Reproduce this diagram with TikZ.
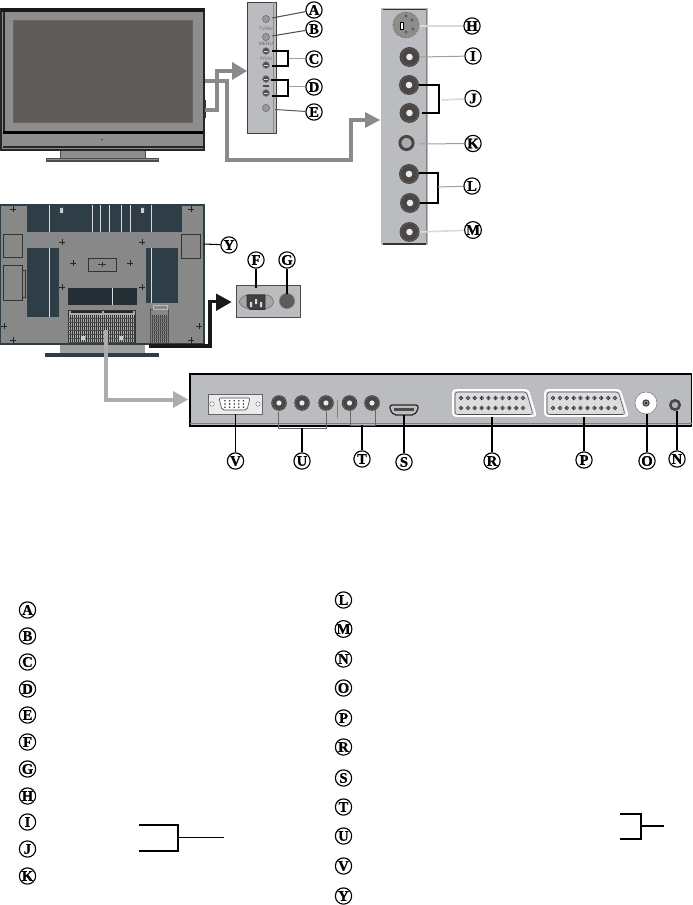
\documentclass[tikz,border=0pt]{standalone}
\usepackage{fontspec}
\setmainfont[BoldFeatures={FakeBold=0.9}]{Liberation Serif}
\newfontfamily\tinysans{Liberation Sans}
\definecolor{frameg}{HTML}{8F8D8C}
\definecolor{screeng}{HTML}{5F5B59}
\definecolor{panelg}{HTML}{BABCBF}
\definecolor{backg}{HTML}{888888}
\definecolor{darkblue}{HTML}{2F3D47}
\definecolor{jackd}{HTML}{4A4646}
\definecolor{arrowg}{HTML}{8A8A8A}
\definecolor{arrowl}{HTML}{ADADAD}
\definecolor{leadg}{HTML}{A0A0A0}
\definecolor{leadl}{HTML}{DADADA}
\newcommand{\rcajack}[3]{%
  \fill[jackd] (#1,#2) circle (#3);
  \draw[gray!70,line width=.3pt,densely dotted] (#1,#2) circle (#3*0.86);
  \fill[white!92!black] (#1,#2) circle (#3*0.33);}
\newcommand{\scartconn}[2]{%
  \begin{scope}[shift={(#1,#2)}]
    \draw[white,line width=1.2pt,fill=panelg!50!white,rounded corners=2pt] (0,0) -- (75,0) -- (83,26) -- (0,26) -- cycle;
    \draw[black!70,line width=.4pt,rounded corners=2pt] (2,2) -- (73.5,2) -- (80,24.5) -- (2,24.5) -- cycle;
    \foreach \i in {0,...,9} {
      \draw[black!75,line width=.5pt,fill=white] (8+6.9*\i,8) circle (1.9);
      \draw[black!75,line width=.5pt,fill=white] (8+6.9*\i,18) circle (1.9);
      \fill[black!85] (8+6.9*\i,8) circle (1);
      \fill[black!85] (8+6.9*\i,18) circle (1);
    }
  \end{scope}}
\tikzset{
  x=0.75pt,y=-0.75pt,
  lbl/.style={circle,draw=black,line width=.85pt,fill=white,minimum size=12.2pt,inner sep=0pt,font=\fontsize{11}{11}\selectfont\bfseries},
  lead/.style={black,line width=.8pt},
  leadgrey/.style={leadg,line width=.75pt},
  leadpale/.style={leadl,line width=1.2pt},
  brk/.style={black,line width=.85pt},
  shaftd/.style={arrowg,line width=2.4pt,line join=miter},
  shaftl/.style={arrowl,line width=2.8pt,line join=miter},
  shaftk/.style={black!90,line width=2.6pt,line join=miter},
  tiny lab/.style={inner sep=0pt,text=black!60,font=\tinysans\fontsize{3.6}{4}\selectfont},
}
\begin{document}
\begin{tikzpicture}
\useasboundingbox (0,0) rectangle (692,905);
\fill[white] (0,0) rectangle (692,905);

% ---------- front TV
\fill[frameg] (60,150) rectangle (145,158);
\draw[black!70,line width=.5pt] (60,150) -- (60,158) (145,150) -- (145,158);
\fill[black!70] (46,158) rectangle (159,162);
\fill[frameg] (47,159) rectangle (158,160.5);
\filldraw[fill=frameg,draw=black!85,line width=.9pt] (1,9) rectangle (204,150);
\fill[black!90] (1,8) rectangle (204,12);
\fill[black!85] (3,12) rectangle (5,132);
\filldraw[fill=screeng,draw=black!60,line width=.5pt] (13,20) rectangle (192,122);
\fill[black] (3,131) rectangle (203,134);
\draw[black!85,line width=.8pt] (3,147) -- (203,147);
\fill[black!70] (102,139.5) circle (.8);
\fill[black!80] (204,100) rectangle (206,118);

% ---------- side panel
\filldraw[fill=panelg,draw=black!75,line width=.6pt] (247,2) rectangle (276,133);
\draw[frameg,line width=.6pt] (273,2) -- (273,133);
\foreach \yy in {19,37,108} \filldraw[fill=gray!80,draw=black!55,line width=.5pt] (266,\yy) circle (3.6);
\foreach \yy in {51,65,79,93} {
  \filldraw[fill=black!70,draw=black!50,line width=.5pt] (266,\yy) circle (3.4);
  \draw[white!85!black,line width=.4pt] (264,\yy) -- (268,\yy);
}
\node[tiny lab] (tvav) at (266,29) {TV/AV};
\node[tiny lab] (menu) at (266,44) {MENU};
\node[tiny lab] (pch) at (266,59) {P/CH};
\fill[black!70] (263,85.5) rectangle (269,87);

% ---------- right panel
\fill[panelg] (381,8) rectangle (428,245);
\draw[black!80,line width=1pt] (383,9.5) -- (426,9.5) (383,244) -- (426,244);
\draw[gray,line width=.8pt] (426.5,9) -- (426.5,244);
\filldraw[fill=frameg,draw=black!60,line width=.6pt,densely dotted] (406,25) circle (13);
\draw[black,fill=white,line width=.6pt] (400,22) rectangle (403,29);
\foreach \a/\b in {406/16,412/20,413/29,406/32} \draw[black!70,line width=.4pt] (\a,\b) circle (1.2);
\rcajack{409.5}{57}{10}
\rcajack{409}{85}{10}
\rcajack{409.5}{113}{10}
\filldraw[fill=gray!65,draw=jackd,line width=2.2pt] (406.5,143) circle (6.6);
\rcajack{409}{174}{10}
\rcajack{410}{203}{10}
\rcajack{409.5}{232}{10}

% ---------- rear TV
\fill[darkblue] (45,353) rectangle (159,357);
\fill[frameg!60!panelg] (60,344) rectangle (145,353);
\filldraw[fill=backg,draw=darkblue,line width=1pt] (0,205) rectangle (204,344);
\fill[darkblue] (27,205) rectangle (182,232);
\foreach \xx in {49,92,100,109,121,130,151} \draw[white!85!black,line width=.5pt] (\xx,205) -- (\xx,232);
\fill[white!80!black] (60,208) rectangle (63,213) (141,208) rectangle (144,213);
\fill[darkblue] (27,248) rectangle (59,317);
\draw[white!85!black,line width=.5pt] (49,248) -- (49,317);
\fill[darkblue] (146,248) rectangle (178,303);
\draw[white!85!black,line width=.5pt] (151,248) -- (151,303);
\fill[darkblue!75!black] (68,288) rectangle (137,305);
\draw[white!85!black,line width=.5pt] (112,288) -- (112,305);
\draw[black!80,line width=.6pt] (88,258) rectangle (116,271);
\draw[black!80,line width=.5pt] (98,264.5) -- (106,264.5) (102,262) -- (102,267);
\draw[black!80,line width=.6pt] (3,234) rectangle (22,257) (3,265) rectangle (22,300);
\draw[black!80,line width=.6pt] (181,234) rectangle (200,258);
\draw[black!80,line width=.6pt] (22,270) -- (25,270) -- (25,297) -- (22,297);
\foreach \a/\b in {62/242,142/242,62/287,142/287,73/263,130/263,13/209,191/209,13/340,191/340,4/326,199/326} {
  \draw[black!85,line width=.7pt] (\a-2.8,\b) -- (\a+2.8,\b) (\a,\b-2.8) -- (\a,\b+2.8);
}
\fill[backg!70!white] (68,310) rectangle (135,342);
\draw[black!80,line width=.5pt] (68,310) rectangle (135,342);
\draw[black!85,line width=1pt] (71,312) -- (102,312) (104,312) -- (133,312);
\foreach \xx in {70,72,...,134} \draw[black!80,line width=.5pt] (\xx,315) -- (\xx,342);
\foreach \yy in {318,322,...,342} \draw[black!70,line width=.4pt] (68,\yy) -- (135,\yy);
\fill[white!80!black] (81,336) rectangle (85,340) (119,336) rectangle (123,340);
\draw[black!70,line width=.5pt] (150,309) rectangle (168,342);
\foreach \xx in {152,154,...,166} \draw[black!75,line width=.45pt] (\xx,315) -- (\xx,342);
\foreach \yy in {318,322,...,342} \draw[black!60,line width=.4pt] (150,\yy) -- (168,\yy);
\draw[frameg!60!white,line width=.5pt] (153,305) rectangle (167,309);

% ---------- AC panel
\filldraw[fill=panelg,draw=black!70,line width=.6pt] (236,285) rectangle (300,317);
\filldraw[fill=gray!70,draw=black!55,line width=.5pt] (239,302) .. controls (242,295) and (247,295) .. (250,294.5) -- (262,294.5) .. controls (268,295) and (272,295) .. (273.5,302) .. controls (272,308) and (268,308) .. (262,309.5) -- (250,309.5) .. controls (247,308) and (242,308) .. (239,302) -- cycle;
\filldraw[fill=black!75,draw=black!80,line width=.5pt] (247,295) -- (265,295) -- (265,309.5) -- (250,309.5) -- (247,306) -- cycle;
\fill[white!85!black] (250,302) rectangle (252,307) (255,299) rectangle (257,304) (260,302) rectangle (262,307);
\filldraw[fill=screeng,draw=black!50,line width=.5pt] (287,301) circle (7.6);

% ---------- bottom panel
\filldraw[fill=panelg,draw=black,line width=.9pt] (190,374) rectangle (691.5,426);
\draw[gray,line width=.5pt] (190,423) -- (691.5,423);
\filldraw[fill=white!92!black,draw=black!60,line width=.5pt] (208,394) rectangle (262,414);
\filldraw[fill=white,draw=black!70,line width=.5pt,rounded corners=1.5pt] (219,398) -- (250,398) -- (247,410) -- (222,410) -- cycle;
\foreach \i in {0,...,4} {
  \fill[black!75] (225+4.6*\i,400.8) circle (.9);
  \fill[black!75] (225+4.6*\i,404) circle (.9);
  \fill[black!75] (225+4.6*\i,407.2) circle (.9);
}
\filldraw[fill=white,draw=gray,line width=.4pt] (212,404) circle (2.2);
\filldraw[fill=white,draw=gray,line width=.4pt] (258,404) circle (2.2);
\rcajack{279}{403}{7.8}
\rcajack{302}{403}{7.8}
\rcajack{326}{403}{7.8}
\rcajack{349.5}{403}{7.8}
\rcajack{372}{403}{7.8}
\draw[gray,line width=.6pt] (337,400) -- (337,418);
\filldraw[fill=gray!50,draw=black!85,line width=.9pt,rounded corners=1.5pt] (390,405) -- (418,405) -- (418,410) -- (414,415) -- (394,415) -- (390,410) -- cycle;
\fill[black!70] (394,407.5) rectangle (414,411);
\scartconn{453}{390}
\scartconn{545}{390}
\fill[white] (646,403) circle (11);
\draw[gray,line width=.4pt] (646,403) circle (11);
\fill[black!80] (646,403) circle (3.6);
\draw[white!70!black,line width=.5pt] (646,403) circle (2);
\filldraw[fill=gray!60,draw=jackd,line width=1.9pt] (675,405) circle (4.7);

% ---------- callout labels
\node[lbl] (A) at (314,10) {A};
\node[lbl] (B) at (314,29) {B};
\node[lbl] (C) at (314,59) {C};
\node[lbl] (D) at (314,87) {D};
\node[lbl] (E) at (314,112) {E};
\node[lbl] (H) at (472,26) {H};
\node[lbl] (I) at (473,56) {I};
\node[lbl] (J) at (473,98.5) {J};
\node[lbl] (K) at (473,143.5) {K};
\node[lbl] (L) at (472,186) {L};
\node[lbl] (M) at (473,230) {M};
\node[lbl] (Y) at (229,245) {Y};
\node[lbl] (F) at (256,260) {F};
\node[lbl] (G) at (287,260) {G};
\node[lbl] (V) at (235.5,461) {V};
\node[lbl] (U) at (302,461) {U};
\node[lbl] (T) at (362,459) {T};
\node[lbl] (S) at (404,462) {S};
\node[lbl] (R) at (492,461) {R};
\node[lbl] (P) at (584,460) {P};
\node[lbl] (O) at (647,461) {O};
\node[lbl] (N) at (677,459) {N};

% ---------- port anchors
\coordinate (pA) at (272,18);
\coordinate (pB) at (272,36);
\coordinate (pC) at (288,59);
\coordinate (pD) at (288,87);
\coordinate (pE) at (275,109.5);
\coordinate (pH) at (420,26);
\coordinate (pI) at (420,57);
\coordinate (pJ) at (442,100);
\coordinate (pK) at (419,144);
\coordinate (pL) at (438,187);
\coordinate (pM) at (420,232);
\coordinate (pY) at (204,244);
\coordinate (pF) at (256,288);
\coordinate (pG) at (287,294);
\coordinate (pV) at (235.5,414);
\coordinate (pU) at (302,428);
\coordinate (pT) at (362,425);
\coordinate (pS) at (404,415);
\coordinate (pR) at (492,417);
\coordinate (pP) at (584,417);
\coordinate (pO) at (647,414);
\coordinate (pN) at (677,411);

% ---------- leads
\draw[leadgrey,black!70] (pA) -- (A);
\draw[leadgrey,black!70] (pB) -- (B);
\draw[leadgrey] (pC) -- (C);
\draw[leadgrey] (pD) -- (D);
\draw[leadgrey,black!65] (pE) -- (E);
\draw[brk] (272,51) -- (288,51) -- (288,66) -- (272,66);
\draw[brk] (271,80) -- (288,80) -- (288,96) -- (272,96);
\draw[leadpale] (pH) -- (H);
\draw[leadgrey] (pI) -- (I);
\draw[brk] (419,85) -- (439,85) -- (439,113) -- (422,113);
\draw[leadpale] (pJ) -- (J);
\draw[leadgrey] (pK) -- (K);
\draw[brk] (419,173) -- (438,173) -- (438,203) -- (420,203);
\draw[leadgrey] (pL) -- (L);
\draw[leadpale] (pM) -- (M);
\draw[lead] (pY) -- (Y);
\draw[lead] (pF) -- (F);
\draw[lead] (pG) -- (G);
\draw[lead] (pV) -- (V);
\draw[black!60,line width=.6pt] (278,412) -- (278,428) -- (326,428) -- (326,412);
\draw[lead] (pU) -- (U);
\draw[black!60,line width=.6pt] (350,410) -- (350,425) -- (375,425) -- (375,410);
\draw[lead] (pT) -- (T);
\draw[lead] (pS) -- (S);
\draw[lead] (pR) -- (R);
\draw[lead] (pP) -- (P);
\draw[lead] (pO) -- (O);
\draw[lead] (pN) -- (N);

% ---------- thick arrows
\draw[shaftd] (205,110) -- (217,110) -- (217,71) -- (233,71);
\fill[arrowg] (232,62) -- (247,71) -- (232,80) -- cycle;
\draw[shaftd] (205,81) -- (227,81) -- (227,160) -- (351,160) -- (351,120) -- (366,120);
\fill[arrowg] (365,112) -- (380,120) -- (365,128) -- cycle;
\draw[shaftk] (149,346) -- (210,346) -- (210,301.5) -- (217,301.5);
\fill[black!90] (216,293.5) -- (231.5,302) -- (216,311) -- cycle;
\draw[shaftl] (106,330) -- (106,400) -- (175,400);
\fill[arrowl] (173,391) -- (188,399.5) -- (173,408) -- cycle;

% ---------- legend left
\foreach \n/\yy in {A/610,B/636,C/662,D/689,E/715,F/742,G/769,H/796,I/822,J/849,K/876}
  \node[lbl] (l\n) at (27.5,\yy) {\n};
\coordinate (lbA) at (139,825);
\coordinate (lbB) at (139,851);
\coordinate (lbC) at (224,837.5);
\draw[black,line width=1pt] (lbA) -- (178,825) -- (178,851) -- (lbB);
\draw[black,line width=1pt] (178,837.5) -- (lbC);

% ---------- legend right
\foreach \n/\yy in {L/600,M/629,N/659,O/688,P/718,R/747,S/778,T/807,U/836,V/866,Y/896}
  \node[lbl] (r\n) at (343.5,\yy) {\n};
\coordinate (rbA) at (620,814);
\coordinate (rbB) at (620,839);
\coordinate (rbC) at (664,826);
\draw[black,line width=.9pt] (rbA) -- (641,814) -- (641,839) -- (rbB);
\draw[black,line width=.9pt] (641,826) -- (rbC);
\end{tikzpicture}
\end{document}
